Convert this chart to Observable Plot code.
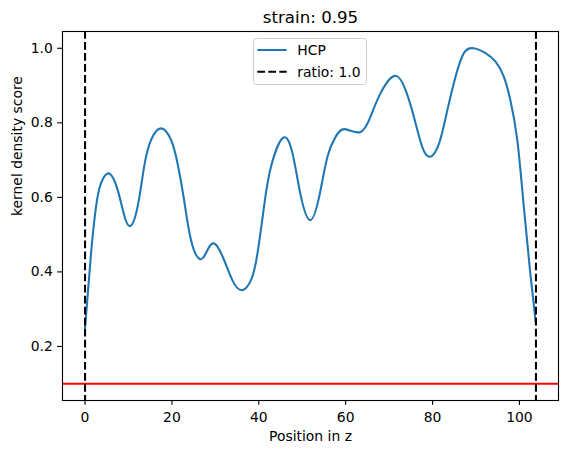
<!DOCTYPE html>
<html><head><meta charset="utf-8">
<script src="https://cdn.jsdelivr.net/npm/d3@7"></script>
<script src="https://cdn.jsdelivr.net/npm/@observablehq/plot@0.6"></script>
<style>
html,body{margin:0;padding:0;background:#fff;}
#wrap{position:relative;width:567px;height:454px;font-family:"DejaVu Sans",sans-serif;}
#legend{position:absolute;left:253px;top:38px;}
</style></head><body><div id="wrap"></div>
<script>
// ---- data ----
const positions = [0, 1.38, 2.53, 3.68, 5.59, 7.5, 8.9, 10.34, 12.1, 13.6, 15.2, 17.5, 19.8, 21.3, 22.8, 24.4, 26.5, 28.2, 29.9, 32.0, 33.9, 36.0, 38.2, 39.7, 41.2, 42.8, 45.8, 48.1, 49.7, 51.8, 53.9, 55.8, 57.7, 59.8, 63.3, 65.7, 68.0, 71.3, 73.8, 75.7, 77.6, 79.4, 81.5, 83.4, 85.3, 87.2, 89.5, 92.2, 94.5, 96.4, 97.9, 99.5, 101.0, 102.5, 103.8];
const scores    = [0.25, 0.45, 0.575, 0.638, 0.664, 0.62, 0.557, 0.523, 0.575, 0.682, 0.754, 0.785, 0.754, 0.691, 0.593, 0.485, 0.434, 0.459, 0.475, 0.432, 0.378, 0.351, 0.378, 0.45, 0.575, 0.682, 0.761, 0.70, 0.602, 0.539, 0.602, 0.709, 0.763, 0.783, 0.775, 0.816, 0.879, 0.926, 0.888, 0.816, 0.736, 0.709, 0.745, 0.834, 0.924, 0.987, 1.0, 0.987, 0.964, 0.924, 0.861, 0.754, 0.575, 0.396, 0.26];
const thresholdScores = [0.1];
const ratioPositions = [0, 103.8];
const xTicks = [0, 20, 40, 60, 80, 100];
const yTicks = [0.2, 0.4, 0.6, 0.8, 1.0];
const seriesLabel = "HCP";
const ratioLabel = "ratio: 1.0";
const titleText = "strain: 0.95";
const xLabel = "Position in z";
const yLabel = "kernel density score";

const data = positions.map((p, i) => ({pos: p, score: scores[i]}));
const xMin = d3.min(positions), xMax = d3.max(positions);
const xPad = (xMax - xMin) * 0.05;
const yLo = Math.min(d3.min(scores), d3.min(thresholdScores)), yHi = d3.max(scores);
const yPad = (yHi - yLo) * 0.05;

const BLUE = "#1f77b4";
const fs = 13.9;

const chart = Plot.plot({
  width: 567, height: 454,
  marginLeft: 62, marginRight: 9, marginTop: 31, marginBottom: 54,
  style: {fontFamily: "DejaVu Sans, sans-serif", fontSize: fs + "px", color: "#000", background: "#fff", overflow: "visible"},
  x: {domain: [xMin - xPad, xMax + xPad], label: null},
  y: {domain: [yLo - yPad, yHi + yPad], label: null},
  marks: [
    Plot.ruleY(thresholdScores, {stroke: "#ff0000", strokeWidth: 2.08}),
    Plot.line(data, {x: "pos", y: "score", stroke: BLUE, strokeWidth: 2.08, curve: "natural"}),
    Plot.ruleX(ratioPositions, {stroke: "#000", strokeWidth: 2.08, strokeDasharray: "7.7,3.33"}),
    Plot.frame({stroke: "#000", strokeWidth: 1.11}),
    Plot.axisX({ticks: xTicks, tickFormat: d => String(d), tickSize: 4.86, tickPadding: 6.5, strokeWidth: 1.11, label: null, fontSize: fs}),
    Plot.axisY({ticks: yTicks, tickFormat: d => d.toFixed(1), tickSize: 4.86, tickPadding: 4.86, strokeWidth: 1.11, label: null, fontSize: fs}),
    Plot.text([titleText], {frameAnchor: "top", dy: -8.3, lineAnchor: "bottom", fontSize: 16.67, fill: "#000"}),
    Plot.text([xLabel], {frameAnchor: "bottom", dy: 36, lineAnchor: "middle", fontSize: fs, fill: "#000"}),
    Plot.text([yLabel], {frameAnchor: "left", dx: -45.3, rotate: -90, lineAnchor: "middle", fontSize: fs, fill: "#000"})
  ]
});
const wrap = document.getElementById("wrap");
wrap.appendChild(chart);

// legend (matplotlib-style box, upper center)
const lg = document.createElement("div");
lg.id = "legend";
lg.innerHTML = `<svg width="115" height="48" style="display:block;font-family:'DejaVu Sans',sans-serif;font-size:${fs}px">
  <rect x="0.5" y="0.5" width="113" height="46" rx="3" ry="3" fill="rgba(255,255,255,0.8)" stroke="#cccccc" stroke-width="1"></rect>
  <line x1="4.3" x2="33.7" y1="12" y2="12" stroke="${BLUE}" stroke-width="2.08"></line>
  <line x1="4.3" x2="33.7" y1="33.7" y2="33.7" stroke="#000" stroke-width="2.08" stroke-dasharray="7.7,3.33"></line>
  <text x="44.3" y="17">${seriesLabel}</text>
  <text x="44.3" y="38.7">${ratioLabel}</text>
</svg>`;
wrap.appendChild(lg);
</script>
</body></html>
